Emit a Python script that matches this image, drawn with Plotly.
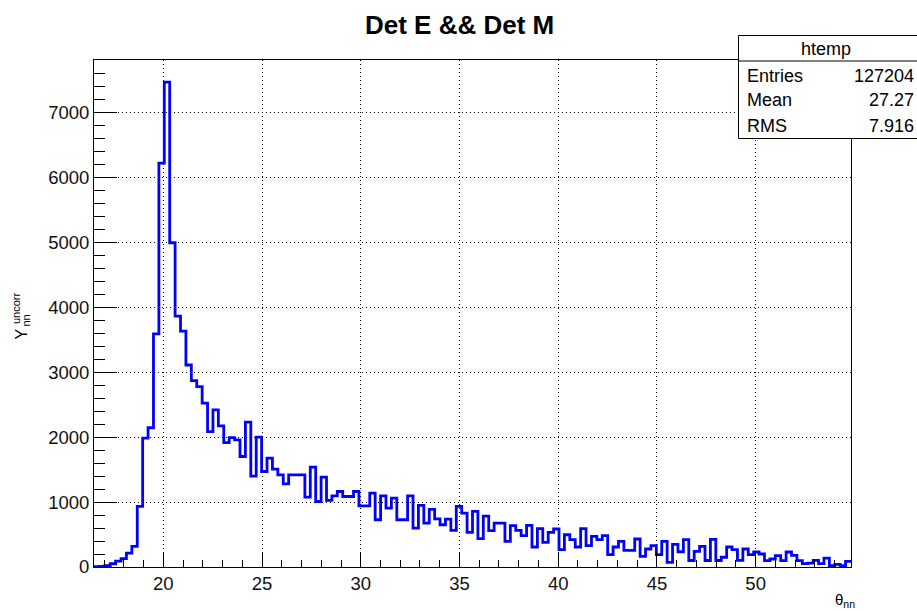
import plotly.graph_objects as go

# ---------------- data ----------------
title_text = "Det E && Det M"
x_min = 16.49
x_max = 54.83
n_bins = 140
counts = [
    5, 10, 20, 50, 90, 130, 215, 318, 933, 1985,
    2145, 3590, 6220, 7470, 4995, 3866, 3635, 3112, 2871, 2778,
    2523, 2086, 2420, 2174, 1917, 1994, 1958, 1702, 2231, 1400,
    2000, 1471, 1677, 1508, 1420, 1282, 1420, 1420, 1420, 1077,
    1538, 1009, 1385, 1025, 1097, 1163, 1086, 1086, 1163, 943,
    943, 1138, 728, 1097, 908, 1062, 728, 728, 1097, 600,
    950, 677, 887, 740, 651, 738, 565, 933, 831, 533,
    856, 436, 785, 560, 677, 677, 395, 636, 564, 482,
    641, 308, 590, 379, 533, 585, 267, 497, 421, 308,
    590, 328, 472, 421, 482, 190, 308, 395, 256, 256,
    431, 164, 277, 328, 190, 395, 72, 350, 235, 421,
    100, 241, 318, 100, 425, 100, 150, 308, 267, 103,
    277, 190, 231, 200, 97, 123, 174, 97, 231, 180,
    97, 51, 60, 103, 51, 138, 20, 40, 20, 87,
]
x_ticks = [20, 25, 30, 35, 40, 45, 50]
y_ticks = [0, 1000, 2000, 3000, 4000, 5000, 6000, 7000]
y_max = 7810
stats_name = "htemp"
stats_labels = ["Entries", "Mean", "RMS"]
stats_values = ["127204", "27.27", "7.916"]

# ---------------- build ----------------
width = (x_max - x_min) / n_bins
edges = [x_min + i * width for i in range(n_bins + 1)]
xs = edges
ys = counts + [counts[-1]]

W, H = 917, 611
L, R, T, B = 94, 66, 60, 44
PW, PH = W - L - R, H - T - B

def px(xp):
    return (xp - L) / PW

def py(yp):
    return (H - B - yp) / PH

FONT = "Liberation Sans, Arial, Helvetica, sans-serif"

fig = go.Figure()
fig.add_trace(go.Scatter(
    x=xs, y=ys, mode="lines", line=dict(color="#0000ff", width=2.8, shape="hv"),
    hoverinfo="skip", showlegend=False,
))

axis_common = dict(
    showline=True, linecolor="black", linewidth=1, mirror=True,
    ticks="inside", tickcolor="black", tickwidth=1,
    showgrid=True, gridcolor="black", gridwidth=1, griddash="1px,3px",
    zeroline=False,
    tickfont=dict(family=FONT, size=18.5, color="#111111"),
)

fig.update_xaxes(
    range=[x_min, x_max], tickvals=x_ticks, ticklen=15,
    minor=dict(ticks="inside", ticklen=7.5, dtick=1, tick0=0, tickcolor="black", showgrid=False),
    **axis_common,
)
fig.update_yaxes(
    range=[0, y_max], tickvals=y_ticks, ticklen=22.7,
    minor=dict(ticks="inside", ticklen=11.4, dtick=200, tick0=0, tickcolor="black", showgrid=False),
    **axis_common,
)

annotations = [
    dict(text="<b>" + title_text.replace("&", "&amp;") + "</b>", x=px(459), y=py(25),
         font=dict(family=FONT, size=26, color="black")),
    dict(text="Y", x=px(20.5), y=py(334), textangle=-90, font=dict(family=FONT, size=16, color="black")),
    dict(text="uncorr", x=px(16), y=py(308), textangle=-90, font=dict(family=FONT, size=11, color="black")),
    dict(text="nn", x=px(25.5), y=py(321), textangle=-90, font=dict(family=FONT, size=11, color="black")),
    dict(text="θ<sub>nn</sub>", x=px(857), y=py(600), xanchor="right",
         font=dict(family=FONT, size=15, color="black")),
    dict(text=stats_name, x=px(826), y=py(48.5), font=dict(family=FONT, size=18, color="black")),
]
row_y = [75.5, 100.5, 126]
for lab, val, ry in zip(stats_labels, stats_values, row_y):
    annotations.append(dict(text=lab, x=px(745), y=py(ry), xanchor="left",
                            font=dict(family=FONT, size=18, color="black")))
    annotations.append(dict(text=val, x=px(915.5), y=py(ry), xanchor="right",
                            font=dict(family=FONT, size=18, color="black")))
for a in annotations:
    a.update(xref="paper", yref="paper", showarrow=False)
    a.setdefault("xanchor", "center")
    a.setdefault("yanchor", "middle")

shapes = [
    dict(type="rect", x0=px(738.5), x1=px(920), y0=py(138.5), y1=py(35.5),
         line=dict(color="black", width=1), fillcolor="white", layer="above"),
    dict(type="line", x0=px(738.5), x1=px(920), y0=py(61), y1=py(61),
         line=dict(color="black", width=1), layer="above"),
]
for s in shapes:
    s.update(xref="paper", yref="paper")

fig.update_layout(
    width=W, height=H, autosize=False,
    margin=dict(l=L, r=R, t=T, b=B, pad=0),
    paper_bgcolor="white", plot_bgcolor="white",
    annotations=annotations, shapes=shapes,
    showlegend=False,
)

fig.write_html(
    "out.html",
    config={"displayModeBar": False},
    post_script="document.body.style.margin='0';document.body.style.padding='0';",
)
